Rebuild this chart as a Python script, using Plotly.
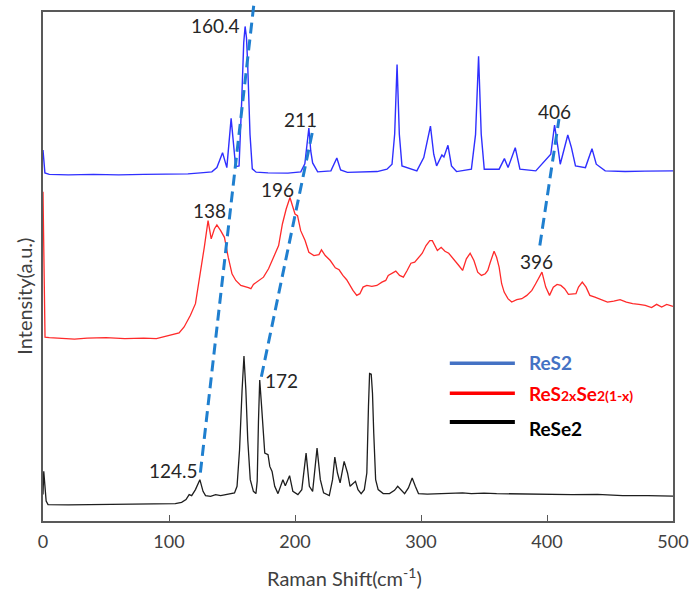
import plotly.graph_objects as go

# ---- Raman spectra (stacked, arbitrary intensity units) ----
RES2_SHIFT = [0, 1.5, 5, 20, 40, 60, 80, 100, 115, 125, 134, 138, 142.5, 145.9, 149.3,
              152.9, 155.6, 157.7, 159.3, 160.4, 161.5, 162.4, 164.3, 166.1, 169.2, 178.6,
              194.4, 204.6, 207.8, 211, 212.5, 214, 218, 228.5, 233.2, 236.2, 241.6, 265.2,
              273, 277, 279.1, 281, 282.8, 284.9, 296.7, 302.2, 307.5, 310.1, 312.4, 316.6,
              318.2, 321.4, 324.2, 328.2, 340, 343.3, 345.7, 347.8, 350.2, 362, 366.2, 369.1,
              374.8, 378.5, 391.1, 403, 406, 408.7, 410.5, 416.5, 419.4, 422.6, 430.5, 435.7,
              439.1, 446.2, 462, 477.7, 500]
RES2_INT = [372.5, 349.5, 348, 347.5, 348, 347.5, 348, 348, 348.5, 349.5, 350.5, 354.8, 369.8,
            354.8, 404.2, 355.8, 356.5, 421.5, 480, 496.5, 485, 460, 388, 353.5, 350.2, 349.5,
            349.2, 350.5, 358.5, 394.5, 371.5, 359.5, 350.5, 351.5, 364.5, 352.5, 350, 350.8,
            353.2, 358.2, 388.5, 458.2, 388.2, 356.5, 351.5, 364.8, 396.5, 368.2, 356.5, 367.5,
            365.5, 377.2, 356.5, 350.8, 353.2, 388.2, 466.5, 388.2, 353.2, 353.2, 363.8, 354.8,
            374.8, 353.2, 351.5, 368.2, 397.5, 374.8, 358.2, 387.5, 374.8, 356.5, 354.8, 373.8,
            358.2, 351.5, 350.8, 351.2, 351.5]

ALLOY_SHIFT = [0, 1.6, 5, 15, 25, 35, 50, 65, 80, 90, 100, 108, 112, 117, 121, 125, 128, 131,
               133.5, 136, 138, 141, 144, 147, 150, 153, 157, 163, 165, 167, 171, 175, 179,
               183, 187, 190, 193, 196, 198, 200, 202, 204.5, 208, 211, 215, 219, 221, 224,
               228, 232, 235, 238, 241, 243.5, 246, 249, 251.5, 254, 257, 261, 265, 269, 272,
               274, 277, 280, 283, 286, 289, 292, 295, 298, 301, 304, 307, 309, 311, 313, 316,
               319, 322, 326, 330, 333, 336, 339, 342, 345, 348, 351, 353, 355, 358, 360, 362,
               364, 366, 369, 372, 376, 380, 384, 388, 391, 393, 396, 399, 402, 405, 408, 411,
               414, 417, 420, 423, 425, 428, 431, 434, 438, 443, 448, 453, 458, 463, 468, 473,
               478, 483, 487, 491, 495, 500]
ALLOY_INT = [330.5, 184.5, 184, 183.5, 182.5, 183.5, 184, 183, 183.5, 183, 186.5, 188.8, 194.8,
             206.5, 218.2, 248.2, 274.8, 301.5, 283.2, 293.2, 297.2, 291.5, 284.8, 264.8, 248.2,
             241.5, 236.5, 234.2, 233.2, 237.5, 241.5, 244.8, 253.2, 264.8, 276.5, 298.2, 313.2,
             324.8, 316.5, 308.2, 306.5, 291.5, 281.5, 269.8, 266.5, 267.5, 272.2, 266.5, 261.5,
             254.2, 252.2, 246.5, 242.2, 236.5, 231.5, 226.5, 228.2, 234.8, 236.5, 235.5, 236.5,
             239.8, 241.5, 246.5, 248.8, 250.8, 246.5, 244.8, 251.5, 258.8, 259.8, 264.2, 268.8,
             276.5, 281.5, 281.5, 276.5, 271.5, 274.8, 270.8, 268.8, 263.2, 256.5, 251.5, 263.2,
             268.8, 261.5, 249.8, 246.5, 248.2, 251.5, 259.8, 270.8, 264.8, 254.8, 238.2, 229.8,
             223.2, 219.8, 222.2, 223.2, 226.5, 231.5, 238.2, 243, 249.8, 234.8, 226.5, 234.8,
             237.5, 236.5, 233.2, 227.5, 227.5, 228.2, 234.8, 239.8, 234.8, 226.5, 224.8, 222.2,
             219.8, 220.8, 222.2, 219.8, 218.2, 217.5, 216.5, 214.2, 217.5, 214.8, 217.5, 215.5]

RESE2_SHIFT = [0, 0.6, 2.5, 4, 20, 40, 60, 80, 95, 105, 110, 113.5, 116, 118, 121, 124.5, 127,
               129, 133, 137, 141, 145, 149, 152, 154, 156, 158, 159.5, 161, 162.5, 164.5, 167,
               169, 170, 171, 172, 173.5, 176, 178.6, 180, 181.8, 183.9, 186.5, 190.4, 192.3,
               195.7, 198.3, 202.3, 205.4, 208.8, 211.4, 214, 217.5, 220.1, 222.7, 227.2, 229.8,
               231.6, 233.7, 235.8, 239, 241.7, 243.7, 248, 250, 252.5, 255, 257, 258.3, 259.2,
               260.5, 261.5, 262.5, 264, 266, 270, 275, 279, 281.5, 284, 287, 290, 293, 295.5,
               298, 305, 320, 333, 340, 350, 360, 380, 400, 420, 440, 450, 460, 480, 500]
RESE2_INT = [26.5, 49.8, 20, 16.5, 16.2, 16.5, 16.2, 16.5, 16.8, 17.5, 18.8, 21.5, 26.5, 25.5,
             31.5, 41.5, 29.8, 25.5, 24.8, 26.5, 25.5, 26.5, 27.2, 28.2, 34.8, 71.5, 131.5, 165.5,
             131.5, 81.5, 41.5, 29.8, 27.5, 40, 100, 141.5, 114.8, 68.2, 66.5, 54.8, 49.8, 34.8,
             27.5, 41.5, 35.5, 45.5, 29.8, 26.5, 31.5, 68.2, 34.8, 29.8, 73.2, 41.5, 28.2, 25.5,
             41.5, 64.2, 48.2, 38.2, 59.8, 48.2, 34.8, 39.8, 31.5, 27.5, 31.5, 48.2, 114.8, 148.2,
             147.5, 128.2, 88.2, 41.5, 31.5, 27.5, 27.5, 30.8, 34.8, 31.5, 27.5, 33.2, 43.2, 34.8,
             27.5, 27, 27.5, 28.2, 27.5, 28, 27.5, 27, 26.5, 26.5, 26.8, 26, 25.5, 25.5, 25]

# ---- peak labels: (text, shift, intensity, dx px, dy px, anchor) ----
PEAK_LABELS = [
    ("160.4", 160.4, 496.5, -3.5, 1, "right"),
    ("211", 211, 394.5, -8, 9, "center"),
    ("406", 406, 397.5, 0, 14, "center"),
    ("138", 138, 297.2, -7.5, 14.5, "center"),
    ("196", 196, 324.8, -12.5, 8, "center"),
    ("396", 396, 249.8, -5.5, 11, "center"),
    ("172", 172, 141.5, 21.5, 0, "center"),
    ("124.5", 124.5, 41.5, -26.5, 9, "center"),
]

# ---- dashed guide lines linking shifted modes: (shift0, int0, shift1, int1) ----
GUIDE_LINES = [
    (124.9, 48.5, 167.6, 521.5),
    (173.3, 144.8, 214.8, 396.5),
    (394.3, 276.5, 409.5, 403.5),
]

X_RANGE = [0, 500]
Y_RANGE = [0, 511]
X_TICKS = [0, 100, 200, 300, 400, 500]

FONT = "Lato, 'Open Sans', sans-serif"
AXIS_COLOR = "#595959"
TEXT_COLOR = "#404040"


def to_paper(x, y):
    px = (x - X_RANGE[0]) / (X_RANGE[1] - X_RANGE[0])
    py = (y - Y_RANGE[0]) / (Y_RANGE[1] - Y_RANGE[0])
    return px, py


fig = go.Figure()
fig.add_trace(go.Scatter(x=RESE2_SHIFT, y=RESE2_INT, mode="lines",
                         line=dict(color="#1e1e1e", width=1.3), name="ReSe2"))
fig.add_trace(go.Scatter(x=ALLOY_SHIFT, y=ALLOY_INT, mode="lines",
                         line=dict(color="#ff2a2a", width=1.3), name="ReS2xSe2(1-x)"))
fig.add_trace(go.Scatter(x=RES2_SHIFT, y=RES2_INT, mode="lines",
                         line=dict(color="#2f2fff", width=1.4), name="ReS2"))

shapes = []
for x0, y0, x1, y1 in GUIDE_LINES:
    p0 = to_paper(x0, y0)
    p1 = to_paper(x1, y1)
    shapes.append(dict(type="line", xref="paper", yref="paper",
                       x0=p0[0], y0=p0[1], x1=p1[0], y1=p1[1],
                       line=dict(color="#1f7fcf", width=3, dash="11px,6px")))

# hand-made legend: (colour, line width, label, line y, text y)
legend_rows = [
    ("#4472C4", 3.5, "<b>ReS2</b>", 0.3098, 0.3118),
    ("#FF0000", 3.5, "<b>ReS<span style='font-size:14px'>2x</span>Se"
                     "<span style='font-size:14px'>2(1-x)</span></b>", 0.2511, 0.2505),
    ("#000000", 4, "<b>ReSe2</b>", 0.1943, 0.181),
]
annotations = []
for color, w, label, yline, ytext in legend_rows:
    shapes.append(dict(type="line", xref="paper", yref="paper",
                       x0=0.6457, x1=0.749, y0=yline, y1=yline,
                       line=dict(color=color, width=w)))
    annotations.append(dict(xref="paper", yref="paper", x=0.768, y=ytext,
                            xanchor="left", yanchor="middle", showarrow=False,
                            text=label, font=dict(family=FONT, size=19, color=color)))

for text, sx, si, dx, dy, anchor in PEAK_LABELS:
    annotations.append(dict(x=sx, y=si, xref="x", yref="y", text=text, showarrow=False,
                            xanchor=anchor, yanchor="middle", xshift=dx, yshift=dy,
                            font=dict(family=FONT, size=19, color="#262626")))

annotations.append(dict(xref="paper", yref="paper", x=-0.0315, y=0.441,
                        text="Intensity(a.u.)", textangle=-90, showarrow=False,
                        xanchor="center", yanchor="middle",
                        font=dict(family=FONT, size=20, color=TEXT_COLOR)))
annotations.append(dict(xref="paper", yref="paper", x=0.478, y=-0.1095,
                        text="Raman Shift(cm<sup>-1</sup>)", showarrow=False,
                        xanchor="center", yanchor="middle",
                        font=dict(family=FONT, size=20, color=TEXT_COLOR)))

fig.update_layout(
    width=699, height=591,
    margin=dict(l=43, r=21, t=10, b=70),
    paper_bgcolor="white", plot_bgcolor="white",
    showlegend=False,
    shapes=shapes,
    annotations=annotations,
    xaxis=dict(range=X_RANGE, tickvals=X_TICKS, ticks="inside", ticklen=6,
               tickcolor=AXIS_COLOR, tickwidth=1.3, showline=True, linecolor=AXIS_COLOR,
               linewidth=1.5, mirror=True, showgrid=False, zeroline=False,
               ticklabelstandoff=4,
               tickfont=dict(family=FONT, size=18, color=TEXT_COLOR)),
    yaxis=dict(range=Y_RANGE, showticklabels=False, ticks="", showline=True,
               linecolor=AXIS_COLOR, linewidth=1.5, mirror=True, showgrid=False,
               zeroline=False),
)

fig.write_html("out.html")
